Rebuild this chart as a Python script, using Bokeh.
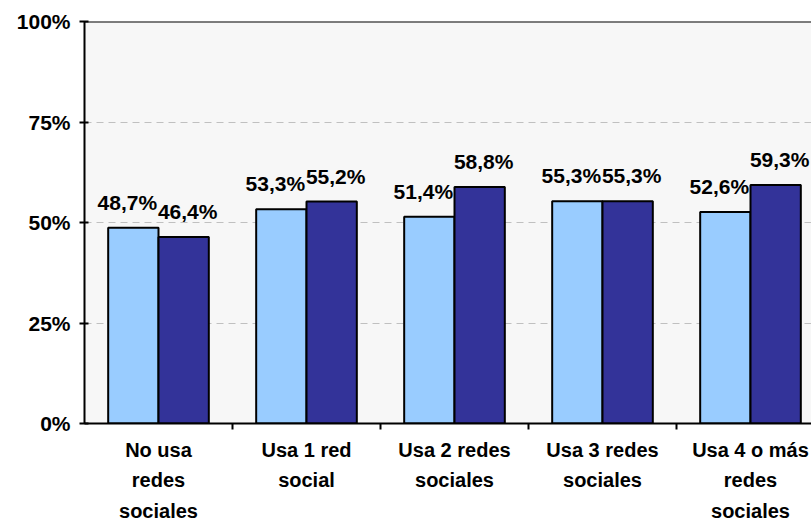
from bokeh.plotting import figure
from bokeh.models import ColumnDataSource, Range1d, FixedTicker, LabelSet, Span
from bokeh.core.properties import value
from bokeh.embed import file_html
from bokeh.resources import INLINE

categories = ["No usa\nredes\nsociales", "Usa 1 red\nsocial", "Usa 2 redes\nsociales",
              "Usa 3 redes\nsociales", "Usa 4 o más\nredes\nsociales"]
serie_a = [48.7, 53.3, 51.4, 55.3, 52.6]
serie_b = [46.4, 55.2, 58.8, 55.3, 59.3]
y_ticks = [0, 25, 50, 75, 100]
y_tick_labels = ["0%", "25%", "50%", "75%", "100%"]

FONT = "Liberation Sans"
LIGHT = "#99CCFF"
DARK = "#333399"

centers = [i + 0.5 for i in range(len(categories))]
bounds = [i for i in range(1, len(categories))]
off = 0.17
w = 0.34


def fmt(v):
    return f"{v:.1f}%".replace(".", ",")


src = ColumnDataSource(dict(
    xa=[c - off for c in centers], xb=[c + off for c in centers],
    a=serie_a, b=serie_b,
    la=[fmt(v) for v in serie_a], lb=[fmt(v) for v in serie_b],
))

p = figure(width=811, height=525, output_backend="svg", toolbar_location=None,
           x_range=Range1d(0, 727 / 148), y_range=Range1d(0, 100),
           min_border_left=84, min_border_right=0, min_border_top=21, min_border_bottom=102)
p.outline_line_color = None
p.background_fill_color = "#F7F7F7"
p.border_fill_color = "white"

p.vbar(x="xa", top="a", width=w, bottom=0, source=src, fill_color=LIGHT,
       line_color="black", line_width=2)
p.vbar(x="xb", top="b", width=w, bottom=0, source=src, fill_color=DARK,
       line_color="black", line_width=2)

for xcol, lcol, ycol, xo in (("xa", "la", "a", -6), ("xb", "lb", "b", 4)):
    p.add_layout(LabelSet(x=xcol, y=ycol, text=lcol, source=src, y_offset=18, x_offset=xo,
                          text_align="center", text_baseline="alphabetic",
                          text_font=value(FONT), text_font_style="bold",
                          text_font_size="21px", text_color="black"))

# y axis
p.yaxis.ticker = FixedTicker(ticks=y_ticks)
p.yaxis.major_label_overrides = dict(zip(y_ticks, y_tick_labels))
p.yaxis.major_label_text_font = FONT
p.yaxis.major_label_text_font_style = "bold"
p.yaxis.major_label_text_font_size = "21px"
p.yaxis.major_label_text_color = "black"
p.yaxis.axis_line_width = 2
p.yaxis.axis_line_color = "black"
p.yaxis.major_tick_line_width = 2
p.yaxis.major_tick_in = 4
p.yaxis.major_tick_out = 5
p.yaxis.minor_tick_line_color = None
p.yaxis.major_label_standoff = 9

# x axis
p.xaxis.ticker = FixedTicker(ticks=centers, minor_ticks=bounds)
p.xaxis.major_label_overrides = dict(zip(centers, categories))
p.xaxis.major_label_text_font = FONT
p.xaxis.major_label_text_font_style = "bold"
p.xaxis.major_label_text_font_size = "20px"
p.xaxis.major_label_text_line_height = 1.4
p.xaxis.major_label_text_color = "black"
p.xaxis.major_tick_line_color = None
p.xaxis.major_tick_out = 0
p.xaxis.major_tick_in = 0
p.xaxis.minor_tick_line_color = "black"
p.xaxis.minor_tick_line_width = 2
p.xaxis.minor_tick_out = 6
p.xaxis.minor_tick_in = 0
p.xaxis.axis_line_width = 2
p.xaxis.axis_line_color = "black"
p.xaxis.major_label_standoff = 9

p.xgrid.visible = False
p.ygrid.ticker = FixedTicker(ticks=[25, 50, 75])
p.ygrid.grid_line_color = "#C0C0C0"
p.ygrid.grid_line_dash = "7 5"
p.ygrid.grid_line_width = 1

p.add_layout(Span(location=100, dimension="width", line_color="black", line_width=2))

open("out.html", "w").write(file_html(p, INLINE))
